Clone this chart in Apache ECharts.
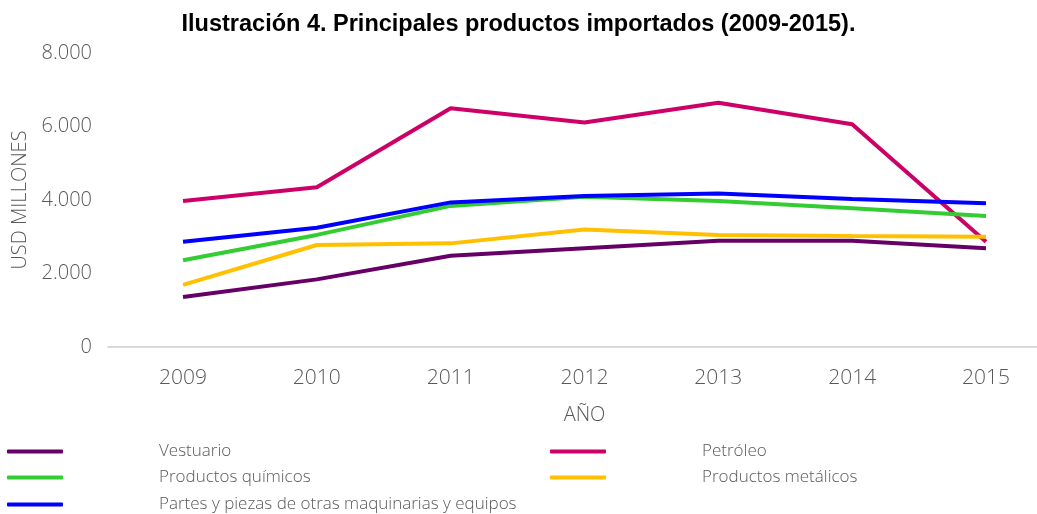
<!DOCTYPE html>
<html>
<head>
<meta charset="utf-8">
<script src="https://cdn.jsdelivr.net/npm/echarts@6/dist/echarts.min.js"></script>
<style>
  html, body { margin: 0; padding: 0; background: #fff; }
  #chart { width: 1037px; height: 514px; }
</style>
</head>
<body>
<div id="chart"></div>
<script>
var years = ['2009', '2010', '2011', '2012', '2013', '2014', '2015'];
var vestuario = [1360, 1840, 2485, 2685, 2890, 2890, 2685];
var petroleo = [3975, 4345, 6495, 6110, 6645, 6060, 2865];
var quimicos = [2360, 3050, 3840, 4090, 3975, 3775, 3565];
var metalicos = [1690, 2775, 2820, 3200, 3045, 3020, 3000];
var partes = [2865, 3245, 3935, 4110, 4180, 4025, 3910];
var yTicks = [0, 2000, 4000, 6000, 8000];

var names = ['Vestuario', 'Petróleo', 'Productos químicos', 'Productos metálicos',
  'Partes y piezas de otras maquinarias y equipos'];
var colors = ['#660066', '#CC0066', '#33CC33', '#FFC000', '#0000FF'];
var valores = [vestuario, petroleo, quimicos, metalicos, partes];

var fontLight = { fontFamily: 'Open Sans', fontWeight: 300, color: '#595959' };

// posición de cada elemento de la leyenda [left, top]
var legendPos = [[2, 438], [545, 438], [2, 464], [545, 464], [2, 491]];

var chart = echarts.init(document.getElementById('chart'));

var legends = names.map(function (n, i) {
  return {
    data: [n],
    left: legendPos[i][0],
    top: legendPos[i][1],
    icon: 'roundRect',
    itemWidth: 56,
    itemHeight: 4,
    textStyle: Object.assign({}, fontLight, { fontSize: 17, padding: [0, 0, 0, 91] })
  };
});

chart.setOption({
  animation: false,
  color: colors,
  title: {
    text: 'Ilustración 4. Principales productos importados (2009-2015).',
    left: 'center',
    top: 8,
    textStyle: { fontFamily: 'Liberation Sans', fontWeight: 'bold', fontSize: 23.5, color: '#000' }
  },
  legend: legends,
  grid: [
    { left: 183, top: 53, width: 803, height: 294, containLabel: false },
    // solo para la línea del eje horizontal, que va de borde a borde
    { left: 108, right: 0, top: 53, height: 294, containLabel: false }
  ],
  xAxis: [{
    type: 'category',
    data: years,
    boundaryGap: false,
    gridIndex: 0,
    name: 'AÑO',
    nameLocation: 'middle',
    nameGap: 58,
    nameTextStyle: Object.assign({}, fontLight, { fontSize: 20 }),
    axisLine: { show: false },
    axisTick: { show: false },
    splitLine: { show: false },
    axisLabel: Object.assign({}, fontLight, { fontSize: 21, margin: 21 })
  }, {
    type: 'value',
    gridIndex: 1,
    axisLine: { show: true, lineStyle: { color: '#D9D9D9', width: 2 } },
    axisTick: { show: false },
    axisLabel: { show: false },
    splitLine: { show: false }
  }],
  yAxis: [{
    type: 'value',
    gridIndex: 0,
    min: yTicks[0],
    max: yTicks[yTicks.length - 1],
    interval: 2000,
    name: 'USD MILLONES',
    nameLocation: 'middle',
    nameGap: 147,
    nameTextStyle: Object.assign({}, fontLight, { fontSize: 20 }),
    splitLine: { show: false },
    axisLine: { show: false },
    axisTick: { show: false },
    axisLabel: Object.assign({}, fontLight, {
      fontSize: 20,
      margin: 91,
      formatter: function (v) {
        return String(v).replace(/\B(?=(\d{3})+(?!\d))/g, '.');
      }
    })
  }, {
    type: 'value',
    gridIndex: 1,
    show: false
  }],
  series: names.map(function (n, i) {
    return {
      name: n,
      type: 'line',
      data: valores[i],
      symbol: 'none',
      lineStyle: { width: 4, color: colors[i] }
    };
  })
});
</script>
</body>
</html>
